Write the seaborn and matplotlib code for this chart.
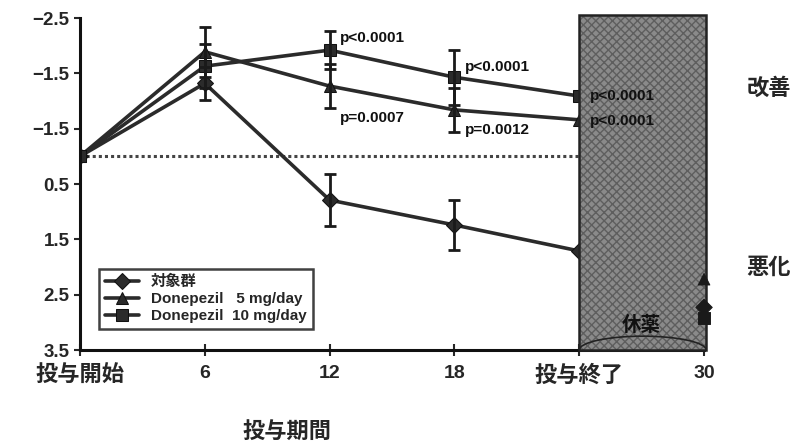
import pandas as pd
import matplotlib.pyplot as plt
import matplotlib.patches as mpatches
import seaborn as sns

# Datos (cambio de puntuación, eje invertido)
semanas = [0, 6, 12, 18, 24, 30]
etiquetas_x = ['投与開始', '6', '12', '18', '投与終了', '30']
control = [0, -1.32, 0.79, 1.24, 1.71, 2.73]
dosis_5 = [0, -1.89, -1.27, -0.84, -0.66, 2.22]
dosis_10 = [0, -1.63, -1.92, -1.43, -1.09, 2.92]
err_control = [0, 0.30, 0.47, 0.45, 0, 0]
err_5 = [0, 0.45, 0.40, 0.40, 0, 0]
err_10 = [0, 0.40, 0.34, 0.50, 0, 0]
grupos = ['対象群', 'Donepezil   5 mg/day', 'Donepezil  10 mg/day']
y_ticks = [-2.5, -1.5, -0.5, 0.5, 1.5, 2.5, 3.5]
y_etiquetas = ['−2.5', '−1.5', '−1.5', '0.5', '1.5', '2.5', '3.5']
p_textos = ['p<0.0001', 'p<0.0001', 'p=0.0007', 'p=0.0012', 'p<0.0001', 'p<0.0001']
p_x = [12.5, 18.5, 12.5, 18.5, 24.5, 24.5]
p_y = [-2.14, -1.61, -0.69, -0.47, -1.09, -0.64]

sns.set_style('ticks')
plt.rcParams['font.family'] = ['Liberation Sans', 'Noto Sans CJK JP', 'DejaVu Sans']
plt.rcParams['font.weight'] = 'bold'

df = pd.DataFrame({
    'semana': semanas * 3,
    'valor': control + dosis_5 + dosis_10,
    'err': err_control + err_5 + err_10,
    'grupo': [g for g in grupos for _ in semanas],
})

fig = plt.figure(figsize=(7.95, 4.43), dpi=100)
ax = fig.add_axes([0.1006, 0.2099, 0.785, 0.7494])

marcadores = {grupos[0]: 'D', grupos[1]: '^', grupos[2]: 's'}
paleta = {g: '#2b2b2b' for g in grupos}

tramo = df[df['semana'] <= 24]
sns.lineplot(data=tramo, x='semana', y='valor', hue='grupo', style='grupo',
             markers=marcadores, dashes=False, palette=paleta, linewidth=2.6,
             markersize=8, markeredgecolor='#111111', ax=ax, zorder=2, legend=True)

for g in grupos:
    sub = tramo[(tramo['grupo'] == g) & (tramo['err'] > 0)]
    ax.errorbar(sub['semana'], sub['valor'], yerr=sub['err'], fmt='none',
                ecolor='#1a1a1a', elinewidth=2, capsize=4, capthick=2, zorder=2)

# Línea de referencia punteada
ax.hlines(0, 0, 24, colors='#444444', linestyles=(0, (1, 1)), linewidth=2.2, zorder=1)

# Periodo de descanso (休薬)
caja = mpatches.Rectangle((24, -2.55), 6.1, 6.05, facecolor='#8a8a8a',
                          edgecolor='none', zorder=3, clip_on=False)
textura = mpatches.Rectangle((24, -2.55), 6.1, 6.05, facecolor='none', hatch='xxxx',
                             edgecolor='#5e5e5e', linewidth=0, zorder=3, clip_on=False)
borde = mpatches.Rectangle((24, -2.55), 6.1, 6.05, facecolor='none',
                           edgecolor='#222222', linewidth=1.8, zorder=3, clip_on=False)
for p in (caja, textura, borde):
    ax.add_patch(p)
ax.add_patch(mpatches.Arc((27.05, 3.5), 6.1, 0.5, theta1=180, theta2=360,
                          color='#222222', linewidth=1.2, zorder=4, clip_on=False))
ax.text(27.0, 3.05, '休薬', ha='center', va='center', fontsize=14,
        color='#111111', zorder=5)

fin = df[df['semana'] == 30]
sns.scatterplot(data=fin, x='semana', y='valor', style='grupo', markers=marcadores,
                color='#1a1a1a', edgecolor='#1a1a1a', s=70, ax=ax, zorder=5,
                clip_on=False, legend=False)

for t, x, y in zip(p_textos, p_x, p_y):
    ax.text(x, y, t, ha='left', va='center', fontsize=11, fontweight='bold',
            color='#111111', zorder=6)

ax.set_xlim(0, 30)
ax.set_ylim(3.5, -2.5)
ax.set_xticks(semanas)
ax.set_xticklabels(etiquetas_x, fontweight='bold')
for lbl in ax.get_xticklabels():
    lbl.set_fontsize(16 if not lbl.get_text().isdigit() else 14)
ax.set_yticks(y_ticks)
ax.set_yticklabels(y_etiquetas, fontsize=13.5, fontweight='bold')
ax.tick_params(axis='y', direction='out', length=4, width=1.5)
ax.tick_params(axis='x', direction='inout', length=8, width=1.5, pad=7)
ax.set_xlabel('')
ax.set_ylabel('')
sns.despine(ax=ax)
for s in ('left', 'bottom'):
    ax.spines[s].set_linewidth(2.2)
    ax.spines[s].set_color('#111111')

fig.text(0.361, 0.025, '投与期間', ha='center', va='center', fontsize=16, fontweight='bold')
fig.text(0.967, 0.80, '改善', ha='center', va='center', fontsize=16, fontweight='bold')
fig.text(0.967, 0.395, '悪化', ha='center', va='center', fontsize=16, fontweight='bold')

leg = ax.legend(loc='lower left', bbox_to_anchor=(0.018, 0.04), fontsize=11,
                frameon=True, fancybox=False, edgecolor='#111111', handlelength=2.2,
                borderpad=0.4, labelspacing=0.2)
leg.get_frame().set_linewidth(1.8)
for t in leg.get_texts():
    t.set_fontweight('bold')

fig.savefig('out.png', dpi=100)
